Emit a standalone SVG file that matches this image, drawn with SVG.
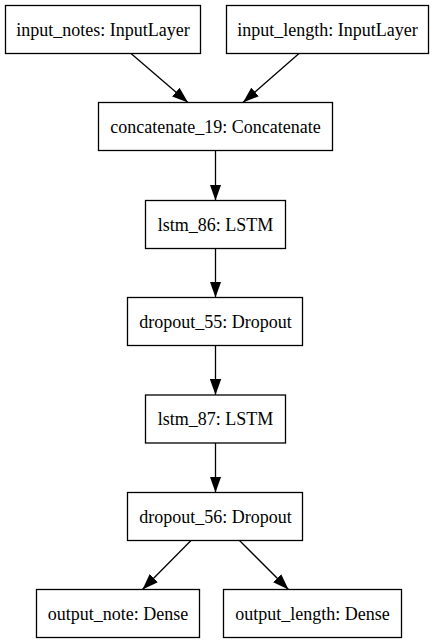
<svg xmlns="http://www.w3.org/2000/svg" width="434" height="644" viewBox="0 0 434 644">
<style>
.box{fill:#fff;stroke:#000;stroke-width:1.3}
.lbl{font-family:"Liberation Serif","Times New Roman",serif;font-size:18px;text-anchor:middle;fill:#000}
.edge{stroke:#000;stroke-width:1.3;fill:none;marker-end:url(#ah)}
</style>
<defs>
<marker id="ah" markerUnits="userSpaceOnUse" markerWidth="16" markerHeight="12" viewBox="0 0 14 10" refX="14" refY="5" orient="auto">
<path d="M0,0 L14,5 L0,10 Z" fill="#000"/>
</marker>
</defs>
<rect width="434" height="644" fill="#fff"/>
<g id="edges">
<line class="edge" x1="131" y1="53.5" x2="188" y2="102.5"/>
<line class="edge" x1="299" y1="53.5" x2="243" y2="102.5"/>
<line class="edge" x1="215.5" y1="150.5" x2="215.5" y2="200.5"/>
<line class="edge" x1="215.5" y1="248.5" x2="215.5" y2="297.5"/>
<line class="edge" x1="215.5" y1="345.5" x2="215.5" y2="395"/>
<line class="edge" x1="215.5" y1="443" x2="215.5" y2="492.5"/>
<line class="edge" x1="191" y1="540.5" x2="142.5" y2="589.5"/>
<line class="edge" x1="239.5" y1="540.5" x2="288.5" y2="589.5"/>
</g>
<g id="input_notes"><rect class="box" x="5.5" y="5.5" width="195" height="48"/><text class="lbl" x="103" y="35.5">input_notes: InputLayer</text></g>
<g id="input_length"><rect class="box" x="226.5" y="5.5" width="202" height="48"/><text class="lbl" x="327.5" y="35.5">input_length: InputLayer</text></g>
<g id="concatenate_19"><rect class="box" x="98.5" y="102.5" width="234" height="48"/><text class="lbl" x="215.5" y="132.5">concatenate_19: Concatenate</text></g>
<g id="lstm_86"><rect class="box" x="145.5" y="200.5" width="140" height="48"/><text class="lbl" x="215.5" y="230.5">lstm_86: LSTM</text></g>
<g id="dropout_55"><rect class="box" x="127.5" y="297.5" width="175" height="48"/><text class="lbl" x="215.5" y="327.5">dropout_55: Dropout</text></g>
<g id="lstm_87"><rect class="box" x="145.5" y="395" width="140" height="48"/><text class="lbl" x="215.5" y="425">lstm_87: LSTM</text></g>
<g id="dropout_56"><rect class="box" x="127.5" y="492.5" width="175" height="48"/><text class="lbl" x="215.5" y="522.5">dropout_56: Dropout</text></g>
<g id="output_note"><rect class="box" x="36.5" y="589.5" width="163" height="48"/><text class="lbl" x="118" y="619.5">output_note: Dense</text></g>
<g id="output_length"><rect class="box" x="223.5" y="589.5" width="178" height="48"/><text class="lbl" x="312.5" y="619.5">output_length: Dense</text></g>
</svg>
